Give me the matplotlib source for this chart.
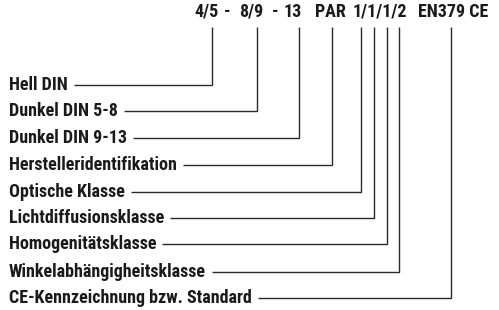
import matplotlib
matplotlib.use("Agg")
import matplotlib.pyplot as plt

# code string shown on top, split into tokens (left x of each token)
code_tokens = ["4/5", "-", "8/9", "-", "13", "PAR", "1/1/1/2", "EN379 CE"]
code_x = [194, 224, 239, 272, 284, 315, 353, 418]

labels = ["Hell DIN", "Dunkel DIN 5-8", "Dunkel DIN 9-13",
          "Herstelleridentifikation", "Optische Klasse",
          "Lichtdiffusionsklasse", "Homogenitätsklasse",
          "Winkelabhängigheitsklasse", "CE-Kennzeichnung bzw. Standard"]
# where each leader line turns upward to the code
pointer_x = [212.5, 257.5, 299, 332, 361.5, 374, 387, 399.5, 451.5]
row_y = [85, 111, 138, 165, 192, 218, 244, 272, 298]

W, H = 499, 310
fig = plt.figure(figsize=(W / 100, H / 100), dpi=100)
ax = fig.add_axes([0, 0, 1, 1])
ax.set_xlim(0, W)
ax.set_ylim(H, 0)
ax.axis("off")

font = dict(family=["Arial Narrow", "Roboto Condensed", "PT Sans Narrow",
                    "Archivo Narrow", "Liberation Sans"],
            weight="bold", size=13, color="#1a1a1a")
line_col = "#2a2a2a"
lw = 1.0

for tok, x in zip(code_tokens, code_x):
    ax.text(x, 17, tok, ha="left", va="baseline", **font)

fig.canvas.draw()
renderer = fig.canvas.get_renderer()
inv = ax.transData.inverted()

for lab, px, y in zip(labels, pointer_x, row_y):
    t = ax.text(9, y + 5, lab, ha="left", va="baseline", **font)
    bb = t.get_window_extent(renderer)
    x_end = inv.transform((bb.x1, bb.y0))[0]
    ax.plot([x_end + 6, px, px], [y, y, 27], color=line_col, lw=lw,
            solid_joinstyle="miter", solid_capstyle="butt")

fig.savefig("out.png", dpi=100)
